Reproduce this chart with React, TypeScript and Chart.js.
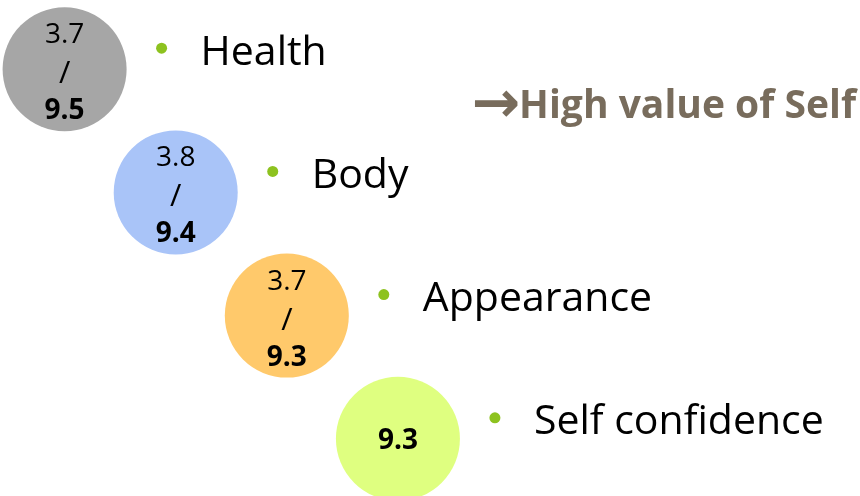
import React, { useEffect, useRef } from "react";
import { Chart, registerables } from "chart.js";

Chart.register(...registerables);

// ---- data ----
const categories = ["Health", "Body", "Appearance", "Self confidence"];
const lowValues: (number | null)[] = [3.7, 3.8, 3.7, null];
const highValues: number[] = [9.5, 9.4, 9.3, 9.3];
const bubbleColors = ["#A6A6A6", "#A9C4F8", "#FFC96B", "#DFFF80"];
const headlineArrow = "\u2192";
const headline = "High value of Self";

const FONT = "'Open Sans', 'Noto Sans', 'DejaVu Sans', sans-serif";

const textPlugin = {
  id: "bubbleText",
  afterDatasetsDraw(chart: any) {
    const ctx = chart.ctx as CanvasRenderingContext2D;
    const meta = chart.getDatasetMeta(0);
    ctx.save();
    meta.data.forEach((el: any, i: number) => {
      const cx = el.x;
      const cy = el.y;
      ctx.textAlign = "center";
      ctx.textBaseline = "alphabetic";
      ctx.fillStyle = "#000000";
      const low = lowValues[i];
      if (low !== null && low !== undefined) {
        ctx.font = `400 28px ${FONT}`;
        ctx.fillText(low.toFixed(1), cx, cy - 26);
        ctx.font = `400 31px ${FONT}`;
        ctx.fillText("/", cx, cy + 14);
        ctx.font = `700 28px ${FONT}`;
        ctx.fillText(highValues[i].toFixed(1), cx, cy + 50);
      } else {
        ctx.font = `700 28px ${FONT}`;
        ctx.fillText(highValues[i].toFixed(1), cx, cy + 10);
      }
      // bullet
      ctx.fillStyle = "#8DC21F";
      ctx.beginPath();
      ctx.arc(cx + 97, cy - 21, 5.5, 0, Math.PI * 2);
      ctx.fill();
      // label
      ctx.fillStyle = "#000000";
      ctx.textAlign = "left";
      ctx.font = `400 41px ${FONT}`;
      ctx.fillText(categories[i], cx + 136, cy - 4.5);
    });
    // headline
    ctx.fillStyle = "#786C5C";
    ctx.textBaseline = "alphabetic";
    ctx.textAlign = "right";
    ctx.font = `700 39px ${FONT}`;
    const right = chart.chartArea.right - 4;
    ctx.fillText(headline, right, 118);
    const w = ctx.measureText(headline).width;
    ctx.font = `700 58px 'DejaVu Sans', sans-serif`;
    ctx.fillText(headlineArrow, right - w + 1, 122);
    ctx.restore();
  },
};

export default function App() {
  const ref = useRef<HTMLCanvasElement | null>(null);
  useEffect(() => {
    if (!ref.current) return;
    const chart = new Chart(ref.current, {
      type: "bubble",
      data: {
        datasets: [
          {
            label: "Self",
            data: categories.map((_, i) => ({ x: i, y: i, r: 62 })),
            backgroundColor: bubbleColors,
            borderWidth: 0,
            hoverRadius: 0,
            clip: false as any,
          },
        ],
      },
      options: {
        animation: false,
        responsive: false,
        devicePixelRatio: 1,
        layout: { padding: 0, autoPadding: false },
        events: [],
        scales: {
          x: { type: "linear", display: false, min: -0.5815, max: 7.159 },
          y: { type: "linear", display: false, reverse: true, min: -0.5617, max: 3.4643 },
        },
        plugins: {
          legend: { display: false },
          tooltip: { enabled: false },
          title: { display: false },
        },
      },
      plugins: [textPlugin],
    });
    return () => chart.destroy();
  }, []);
  return (
    <div style={{ position: "absolute", left: 0, top: 0, width: 860, height: 496, background: "#ffffff" }}>
      <canvas ref={ref} width={860} height={496} />
    </div>
  );
}
